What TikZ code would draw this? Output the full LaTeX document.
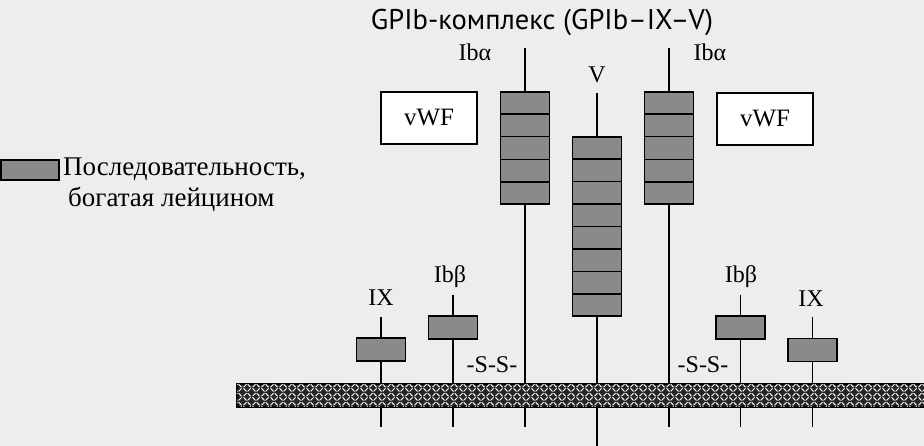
\documentclass[tikz,border=0pt]{standalone}
\usepackage{fontspec}
\setmainfont{Liberation Serif}
\newfontfamily\titlefont{PT Sans}
\usepackage{tikz}
\usetikzlibrary{calc,positioning,patterns.meta}

\definecolor{paper}{HTML}{EDEDED}
\definecolor{lrrgray}{HTML}{8A8A8A}

\tikzdeclarepattern{
  name=weave,
  type=uncolored,
  bounding box={(0pt,0pt) and (9pt,9pt)},
  tile size={(9pt,9pt)},
  line width=1.5pt,
  code={
    \draw (0.6pt,3.9pt) -- (3.9pt,0.6pt);
    \draw (5.1pt,0.6pt) -- (8.4pt,3.9pt);
    \draw (0.6pt,5.1pt) -- (3.9pt,8.4pt);
    \draw (5.1pt,8.4pt) -- (8.4pt,5.1pt);
  }
}

\tikzset{
  lbl/.style={font=\fontsize{24}{28}\selectfont, inner sep=0pt},
  stem/.style={line width=1.3pt},
  lrr/.style={draw, line width=1.4pt, fill=lrrgray, minimum width=49pt, inner sep=0pt},
  ligand/.style={draw, line width=1.4pt, fill=white, minimum width=96pt, minimum height=52pt, font=\fontsize{25}{28}\selectfont},
  membrane/.style={draw, line width=1.5pt, fill=black!85,
    postaction={pattern=weave, pattern color=white}}
}

\begin{document}
\begin{tikzpicture}[x=1pt,y=-1pt]
    \useasboundingbox[fill=paper] (0,0) rectangle (924,446);

    % Title
    \node[font=\titlefont\fontsize{28.5}{32}\selectfont] (title) at (542,22) {GPIb-комплекс (GPIb–IX–V)};

    % Legend
    \node[draw, line width=1.4pt, fill=lrrgray, minimum width=58pt, minimum height=20pt, inner sep=0pt] (legbox) at (30,170) {};
    \node[font=\fontsize{27}{30}\selectfont, inner sep=0pt, anchor=west] (legtxt1) at (63,169) {Последовательность,};
    \node[font=\fontsize{27}{30}\selectfont, inner sep=0pt, anchor=west] (legtxt2) at (68,199) {богатая лейцином};

    % Receptor chains: name/x/box centre/box height/number of segments
    \foreach \name/\x/\yc/\h/\n in {ibaL/525/148/112/5, vchain/597/226.5/179/8, ibaR/669/148/112/5,
                                    ixL/381/349.5/23/1, ibbL/453/327.5/23/1, ibbR/740.5/327.5/23/1, ixR/812.5/350/23/1} {
      \node[lrr, minimum height=\h pt] (\name) at (\x,\yc) {};
      \ifnum\n>1
        \foreach \k in {1,...,\numexpr\n-1\relax} {
          \draw[line width=1.4pt] ($(\name.north west)!\k/\n!(\name.south west)$) -- ($(\name.north east)!\k/\n!(\name.south east)$);
        }
      \fi
    }

    % Stem ends
    \coordinate (ibaL-t) at (525,48);   \coordinate (ibaL-b) at (525,427);
    \coordinate (vchain-t) at (597,93); \coordinate (vchain-b) at (597,446);
    \coordinate (ibaR-t) at (669,48);   \coordinate (ibaR-b) at (669,427);
    \coordinate (ixL-t) at (381,317);   \coordinate (ixL-b) at (381,427);
    \coordinate (ibbL-t) at (453,295);  \coordinate (ibbL-b) at (453,427);
    \coordinate (ibbR-t) at (740.5,295); \coordinate (ibbR-b) at (740.5,427);
    \coordinate (ixR-t) at (812.5,317); \coordinate (ixR-b) at (812.5,427);

    \foreach \name in {ibaL,vchain,ibaR,ixL,ibbL,ibbR,ixR} {
      \draw[stem] (\name-t) -- (\name.north);
      \draw[stem] (\name.south) -- (\name-b);
    }

    % Membrane
    \node[membrane, minimum width=692pt, minimum height=23pt, inner sep=0pt, anchor=north west] (memb) at (236,383) {};

    % Chain labels
    \node[lbl] (lab-ibaL) at (475,52) {Ibα};
    \node[lbl] (lab-v) at (597,75) {V};
    \node[lbl] (lab-ibaR) at (710,52) {Ibα};
    \node[lbl] (lab-ibbL) at (450,277) {Ibβ};
    \node[lbl] (lab-ibbR) at (741,277) {Ibβ};
    \node[lbl] (lab-ixL) at (381,298) {IX};
    \node[lbl] (lab-ixR) at (811,299) {IX};
    \node[lbl] (ssL) at (492,365) {-S-S-};
    \node[lbl] (ssR) at (703,365) {-S-S-};

    % vWF
    \node[ligand] (vwfL) at (429,118) {vWF};
    \node[ligand] (vwfR) at (765,119) {vWF};
\end{tikzpicture}
\end{document}
